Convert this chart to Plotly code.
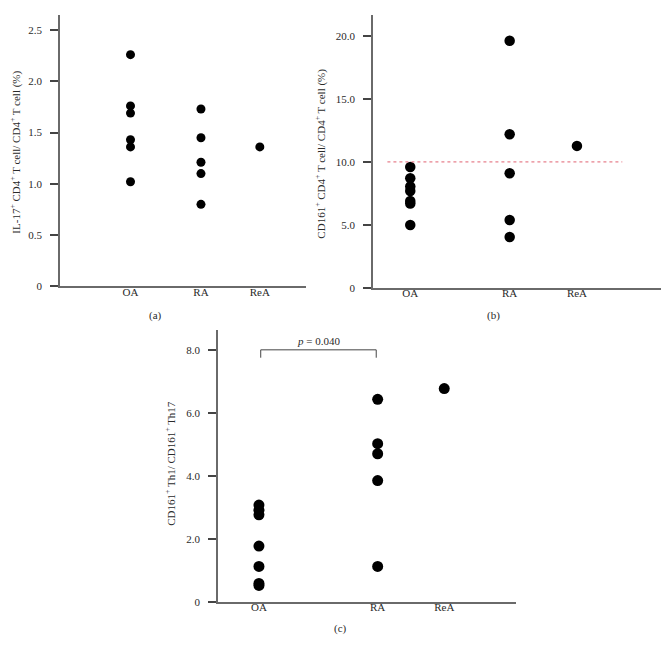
import plotly.graph_objects as go

# ---------------- data ----------------
categories = ["OA", "RA", "ReA"]

# panel (a): IL-17+ CD4+ T cell / CD4+ T cell (%)
a_OA = [2.26, 1.76, 1.69, 1.43, 1.36, 1.02]
a_RA = [1.73, 1.45, 1.21, 1.10, 0.80]
a_ReA = [1.36]

# panel (b): CD161+ CD4+ T cell / CD4+ T cell (%)
b_OA = [9.6, 8.7, 8.05, 7.7, 6.9, 6.7, 5.0]
b_RA = [19.6, 12.2, 9.1, 5.4, 4.05]
b_ReA = [11.27]
b_threshold = 10.0

# panel (c): CD161+ Th1 / CD161+ Th17
c_OA = [3.07, 2.91, 2.76, 1.77, 1.12, 0.58, 0.52]
c_RA = [6.43, 5.02, 4.70, 3.85, 1.12]
c_ReA = [6.77]
c_pvalue = "0.040"

a_ticks = [0, 0.5, 1.0, 1.5, 2.0, 2.5]
a_ticktext = ["0", "0.5", "1.0", "1.5", "2.0", "2.5"]
b_ticks = [0, 5, 10, 15, 20]
b_ticktext = ["0", "5.0", "10.0", "15.0", "20.0"]
c_ticks = [0, 2, 4, 6, 8]
c_ticktext = ["0", "2.0", "4.0", "6.0", "8.0"]

# ---------------- layout helpers ----------------
W, H = 669, 649
FONT = "Liberation Serif"
AXC = "#6a6a6a"
TXT = "#2a2a2a"

def px_x(p):
    return p / W

def px_y(p):
    return 1 - p / H

# category positions along each x axis (not evenly spaced in the original)
pos_a = [1.0, 2.0, 2.835]
pos_b = [1.0, 2.0, 2.677]
pos_c = [1.0, 2.0, 2.561]

fig = go.Figure()

def add_panel(idx, groups, pos, size):
    xa = "x" if idx == 1 else f"x{idx}"
    ya = "y" if idx == 1 else f"y{idx}"
    for g, p in zip(groups, pos):
        fig.add_trace(go.Scatter(
            x=[p] * len(g), y=g, mode="markers",
            marker=dict(color="black", size=size, line=dict(width=0)),
            xaxis=xa, yaxis=ya, showlegend=False, hoverinfo="y"))

add_panel(1, [a_OA, a_RA, a_ReA], pos_a, 9)
add_panel(2, [b_OA, b_RA, b_ReA], pos_b, 10.5)
add_panel(3, [c_OA, c_RA, c_ReA], pos_c, 11)

# threshold line in (b)
fig.add_trace(go.Scatter(
    x=[0.77, 3.133], y=[b_threshold, b_threshold], mode="lines",
    line=dict(color="#e06070", width=1, dash="dot"),
    xaxis="x2", yaxis="y2", showlegend=False, hoverinfo="skip"))

# significance bracket in (c)
fig.add_trace(go.Scatter(
    x=[pos_c[0] + 0.015, pos_c[0] + 0.015, pos_c[1] - 0.012, pos_c[1] - 0.012],
    y=[7.75, 8.0, 8.0, 7.75], mode="lines",
    line=dict(color="#444444", width=1),
    xaxis="x3", yaxis="y3", showlegend=False, hoverinfo="skip"))

def xaxis(domain, rng, pos, anchor):
    return dict(domain=domain, range=rng, tickvals=pos, ticktext=categories,
                showline=True, linecolor=AXC, linewidth=1.8, ticks="",
                showgrid=False, zeroline=False, anchor=anchor,
                ticklabelstandoff=-6,
                tickfont=dict(family=FONT, size=11, color=TXT))

def yaxis(domain, rng, tv, tt, anchor):
    return dict(domain=domain, range=rng, tickvals=tv, ticktext=tt,
                showline=True, linecolor=AXC, linewidth=1.8, ticks="outside",
                ticklen=8, tickwidth=1.5, tickcolor="#444",
                showgrid=False, zeroline=False, anchor=anchor,
                ticklabelstandoff=6,
                tickfont=dict(family=FONT, size=11, color=TXT))

fig.update_layout(
    width=W, height=H, margin=dict(l=0, r=0, t=0, b=0),
    paper_bgcolor="white", plot_bgcolor="white",
    xaxis=xaxis([px_x(52), px_x(298)], [0.0, 3.49], pos_a, "y"),
    yaxis=yaxis([px_y(281), px_y(7)], [0, 2.647], a_ticks, a_ticktext, "x"),
    xaxis2=xaxis([px_x(365), px_x(661.7)], [0.625, 3.61], pos_b, "y2"),
    yaxis2=yaxis([px_y(282.7), px_y(7)], [0, 21.65], b_ticks, b_ticktext, "x2"),
    xaxis3=xaxis([px_x(210), px_x(508.3)], [0.655, 3.168], pos_c, "y3"),
    yaxis3=yaxis([px_y(599.3), px_y(325)], [0, 8.63], c_ticks, c_ticktext, "x3"),
)

ann_font = dict(family=FONT, size=11, color=TXT)
annotations = [
    dict(text="IL-17<sup>+</sup> CD4<sup>+</sup> T cell/ CD4<sup>+</sup> T cell (%)",
         x=px_x(8), y=px_y(146), textangle=-90),
    dict(text="CD161<sup>+</sup> CD4<sup>+</sup> T cell/ CD4<sup>+</sup> T cell (%)",
         x=px_x(313), y=px_y(147), textangle=-90),
    dict(text="CD161<sup>+</sup> Th1/ CD161<sup>+</sup> Th17",
         x=px_x(162), y=px_y(460), textangle=-90),
    dict(text="(a)", x=px_x(147), y=px_y(310.7)),
    dict(text="(b)", x=px_x(485.7), y=px_y(310)),
    dict(text="(c)", x=px_x(332.7), y=px_y(626.7)),
    dict(text=f"<i>p</i> = {c_pvalue}", x=px_x(310), y=px_y(336.5)),
]
for a in annotations:
    a.update(xref="paper", yref="paper", showarrow=False, font=ann_font,
             xanchor="center", yanchor="middle")
fig.update_layout(annotations=annotations)

fig.write_html("out.html")
